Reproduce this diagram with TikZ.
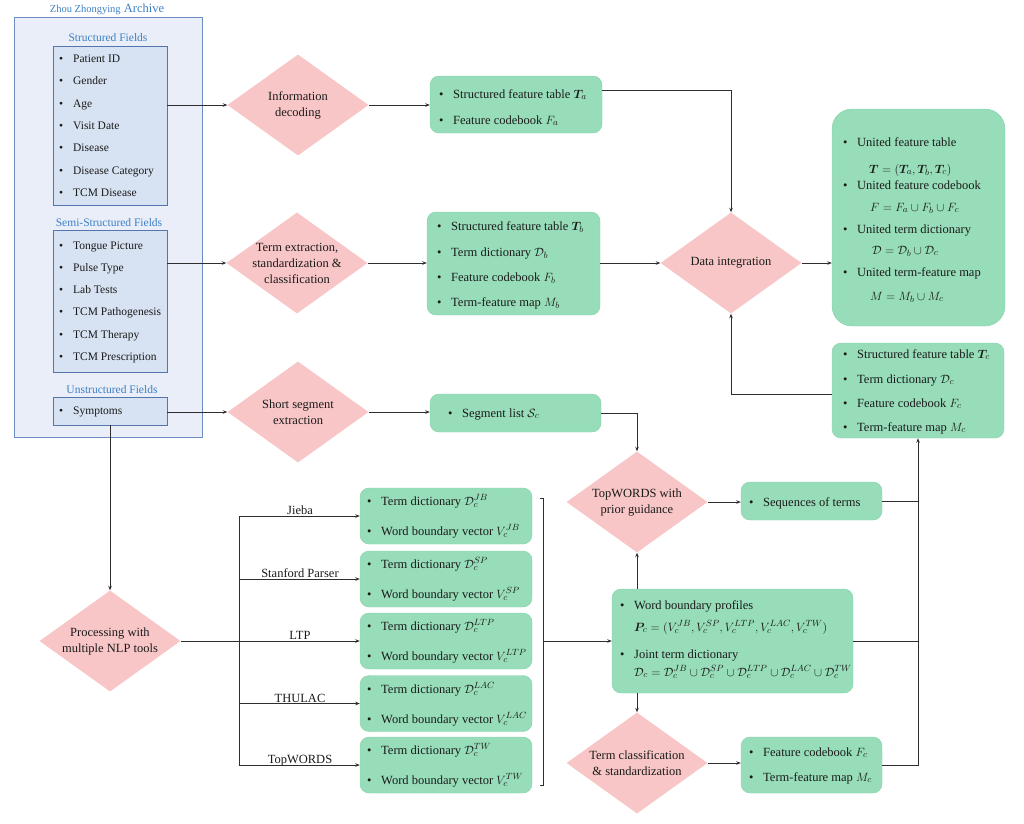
\documentclass[tikz,border=0pt]{standalone}
\usepackage{fontspec}
\setmainfont{Liberation Serif}
\usepackage{amsmath,amssymb,bm}
\usetikzlibrary{shapes.geometric,arrows.meta,calc}
\definecolor{grn}{HTML}{97DDB9}
\definecolor{grnd}{HTML}{86D0AA}
\definecolor{pnk}{HTML}{F8C6C6}
\definecolor{archfill}{HTML}{E9EEF8}
\definecolor{archdraw}{HTML}{6E8DC2}
\definecolor{infill}{HTML}{D7E2F2}
\definecolor{indraw}{HTML}{5475AE}
\definecolor{blu}{HTML}{3D7FC4}
\definecolor{lncol}{HTML}{2E2E2E}
\definecolor{txt}{HTML}{1A1A1A}
\newcounter{itm}
\newcommand\bitem[4][bitm]{\stepcounter{itm}\node[#1] (it\theitm) at (#2,#3) {\makebox[14pt][l]{\textbullet}#4};}
\newcommand\fitem[3]{\stepcounter{itm}\node[bitm] (it\theitm) at (#1,#2) {#3};}
\begin{document}
\begin{tikzpicture}[x=1pt,y=-1pt,
  ln/.style={draw=lncol, line width=0.8pt},
  arr/.style={ln, -{Stealth[length=4.5pt,width=3.5pt]}},
  gbox/.style={rectangle, rounded corners=9pt, fill=grn, draw=grnd, line width=0.4pt, inner sep=0pt},
  dmd/.style={diamond, fill=pnk, minimum width=141pt, minimum height=101pt, inner sep=0pt, aspect=1.4},
  dtext/.style={align=center, font=\fontsize{12.5}{16}\selectfont, inner sep=0pt, text=txt},
  bitm/.style={anchor=west, inner sep=0pt, font=\fontsize{12.5}{15}\selectfont, text=txt, text height=9pt, text depth=3pt},
  litm/.style={anchor=west, inner sep=0pt, font=\fontsize{11.5}{14}\selectfont, text=txt, text height=8pt, text depth=3pt},
  sect/.style={inner sep=0pt, font=\fontsize{11.5}{14}\selectfont, text=blu},
  archive/.style={rectangle, fill=archfill, draw=archdraw, line width=0.7pt, inner sep=0pt},
  inbox/.style={rectangle, fill=infill, draw=indraw, line width=0.7pt, inner sep=0pt},
  tool/.style={anchor=base, inner sep=0pt, font=\fontsize{12.5}{15}\selectfont, text=txt}
]
\useasboundingbox (0,0) rectangle (1024,823);

% ---------------- archive panel
\node[archive, minimum width=188pt, minimum height=420pt] (arch) at (108,227) {};
\node[inner sep=0pt, text=blu, font=\fontsize{12.5}{14}\selectfont] (archt) at (107,9) {{\fontsize{10.5}{12}\selectfont Zhou Zhongying} Archive};

\node[sect] (sft) at (108,38) {Structured Fields};
\node[inbox, minimum width=114pt, minimum height=159pt] (sf) at (110,125.5) {};
\bitem[litm]{59}{60}{Patient ID}
\bitem[litm]{59}{82}{Gender}
\bitem[litm]{59}{105}{Age}
\bitem[litm]{59}{127}{Visit Date}
\bitem[litm]{59}{149}{Disease}
\bitem[litm]{59}{172}{Disease Category}
\bitem[litm]{59}{194}{TCM Disease}

\node[sect] (ssft) at (109,223) {Semi-Structured Fields};
\node[inbox, minimum width=114pt, minimum height=142pt] (ssf) at (110,301) {};
\bitem[litm]{59}{247}{Tongue Picture}
\bitem[litm]{59}{269}{Pulse Type}
\bitem[litm]{59}{291}{Lab Tests}
\bitem[litm]{59}{313}{TCM Pathogenesis}
\bitem[litm]{59}{336}{TCM Therapy}
\bitem[litm]{59}{358}{TCM Prescription}

\node[sect] (uft) at (112,390) {Unstructured Fields};
\node[inbox, minimum width=114pt, minimum height=28pt] (uf) at (110,411) {};
\bitem[litm]{59}{412}{Symptoms}

% ---------------- diamonds
\node[dmd] (info) at (298,105) {};
\node[dtext] (infot) at (info) {Information\\decoding};
\node[dmd] (te) at (297,263) {};
\node[dtext] (tet) at (te) {Term extraction,\\standardization \&\\classification};
\node[dmd] (ss) at (298,412) {};
\node[dtext] (sst) at (ss) {Short segment\\extraction};
\node[dmd] (proc) at (110,641) {};
\node[dtext] (proct) at (proc) {Processing with\\multiple NLP tools};
\node[dmd] (di) at (731,263) {};
\node[dtext] (dit) at (di) {Data integration};
\node[dmd] (tw) at (637,502) {};
\node[dtext] (twt) at (tw) {TopWORDS with\\prior guidance};
\node[dmd] (tcl) at (637,763) {};
\node[dtext] (tclt) at (tcl) {Term classification\\\& standardization};

% ---------------- green boxes
\node[gbox, minimum width=172pt, minimum height=57pt] (ta) at (516,104.5) {};
\bitem{439}{95}{Structured feature table $\boldsymbol{T}_a$}
\bitem{439}{121}{Feature codebook $F_a$}

\node[gbox, minimum width=173pt, minimum height=103pt] (tb) at (513.5,263.5) {};
\bitem{437}{227}{Structured feature table $\boldsymbol{T}_b$}
\bitem{437}{253}{Term dictionary $\mathcal{D}_b$}
\bitem{437}{278}{Feature codebook $F_b$}
\bitem{437}{303}{Term-feature map $M_b$}

\node[gbox, rounded corners=20pt, minimum width=173pt, minimum height=217pt] (ub) at (918.5,217.5) {};
\bitem{843}{143}{United feature table}
\fitem{869}{170}{$\boldsymbol{T}=(\boldsymbol{T}_a,\boldsymbol{T}_b,\boldsymbol{T}_c)$}
\bitem{843}{186}{United feature codebook}
\fitem{870}{208}{$F=F_a\cup F_b\cup F_c$}
\bitem{843}{230}{United term dictionary}
\fitem{872}{251}{$\mathcal{D}=\mathcal{D}_b\cup \mathcal{D}_c$}
\bitem{843}{273}{United term-feature map}
\fitem{870}{297}{$M=M_b\cup M_c$}

\node[gbox, minimum width=172pt, minimum height=95pt] (tcb) at (918,390.5) {};
\bitem{843}{355}{Structured feature table $\boldsymbol{T}_c$}
\bitem{843}{380}{Term dictionary $\mathcal{D}_c$}
\bitem{843}{404}{Feature codebook $F_c$}
\bitem{843}{428}{Term-feature map $M_c$}

\node[gbox, minimum width=171pt, minimum height=38pt] (sl) at (515.5,413) {};
\bitem{448}{414}{Segment list $\mathcal{S}_c$}

\node[gbox, minimum width=141pt, minimum height=38pt] (seq) at (811.5,501) {};
\bitem{749}{503}{Sequences of terms}

\node[gbox, minimum width=241pt, minimum height=104pt] (wb) at (732.5,641) {};
\bitem{620}{606}{Word boundary profiles}
\fitem{634}{628}{$\boldsymbol{P}_c=(V_c^{JB},V_c^{SP},V_c^{LTP},V_c^{LAC},V_c^{TW})$}
\bitem{620}{655}{Joint term dictionary}
\fitem{634}{673}{$\mathcal{D}_c=\mathcal{D}_c^{JB}\cup\mathcal{D}_c^{SP}\cup\mathcal{D}_c^{LTP}\cup\mathcal{D}_c^{LAC}\cup\mathcal{D}_c^{TW}$}

\node[gbox, minimum width=141pt, minimum height=56pt] (fm) at (811.5,765) {};
\bitem{749}{753}{Feature codebook $F_c$}
\bitem{749}{778}{Term-feature map $M_c$}

% NLP tool outputs
\node[gbox, minimum width=172pt, minimum height=56pt] (n1) at (446,516) {};
\bitem{367}{502}{Term dictionary $\mathcal{D}_c^{JB}$}
\bitem{367}{532}{Word boundary vector $V_c^{JB}$}
\node[gbox, minimum width=172pt, minimum height=56pt] (n2) at (446,579) {};
\bitem{367}{565}{Term dictionary $\mathcal{D}_c^{SP}$}
\bitem{367}{595}{Word boundary vector $V_c^{SP}$}
\node[gbox, minimum width=172pt, minimum height=56pt] (n3) at (446,641) {};
\bitem{367}{627}{Term dictionary $\mathcal{D}_c^{LTP}$}
\bitem{367}{657}{Word boundary vector $V_c^{LTP}$}
\node[gbox, minimum width=172pt, minimum height=56pt] (n4) at (446,703.5) {};
\bitem{367}{690}{Term dictionary $\mathcal{D}_c^{LAC}$}
\bitem{367}{720}{Word boundary vector $V_c^{LAC}$}
\node[gbox, minimum width=172pt, minimum height=56pt] (n5) at (446,765) {};
\bitem{367}{751}{Term dictionary $\mathcal{D}_c^{TW}$}
\bitem{367}{781}{Word boundary vector $V_c^{TW}$}

% tool labels
\node[tool] (l1) at (300,514.5) {Jieba};
\node[tool] (l2) at (300,577) {Stanford Parser};
\node[tool] (l3) at (300,639.5) {LTP};
\node[tool] (l4) at (300,702) {THULAC};
\node[tool] (l5) at (300,763.5) {TopWORDS};

% ---------------- connectors
\draw[arr] (sf.east |- info.west) -- (info.west);
\draw[arr] (ssf.east |- te.west) -- (te.west);
\draw[arr] (uf.east |- ss.west) -- (ss.west);
\draw[arr] (info.east) -- (ta.west |- info.east);
\draw[arr] (te.east) -- (tb.west |- te.east);
\draw[arr] (ss.east) -- (sl.west |- ss.east);
\draw[arr] ([yshift=14pt]ta.east) -| (di.north);
\draw[arr] (tb.east |- di.west) -- (di.west);
\draw[arr] (di.east) -- (ub.west |- di.east);
\draw[arr] ([yshift=-4pt]tcb.west) -| (di.south);
\draw[arr] (sl.east) -| (tw.north);
\draw[arr] (uf.south) -- (proc.north);

% branching to NLP tools
\coordinate (bx) at (239,0);
\draw[ln] (bx |- n1.west) -- (bx |- n5.west);
\draw[arr] (proc.east) -- (n3.west);
\draw[arr] (bx |- n1.west) -- (n1.west);
\draw[arr] (bx |- n2.west) -- (n2.west);
\draw[arr] (bx |- n4.west) -- (n4.west);
\draw[arr] (bx |- n5.west) -- (n5.west);

% bracket
\coordinate (brt) at (540,498);
\coordinate (brb) at (540,785);
\coordinate (brm) at (543,641);
\draw[ln, line width=0.6pt] (brt) -- ++(3,0) -- ($(brb)+(3,0)$) -- (brb);
\draw[arr] (brm) -- (wb.west |- brm);

\draw[arr] (tw.south |- wb.north) -- (tw.south);
\draw[arr] (tcl.north |- wb.south) -- (tcl.north);
\draw[arr] (tw.east) -- (seq.west |- tw.east);
\draw[arr] (tcl.east) -- (fm.west |- tcl.east);

\coordinate (jx) at (918,0);
\draw[ln] (seq.east) -- (seq.east -| jx);
\draw[ln] (wb.east) -- (wb.east -| jx);
\draw[arr] (fm.east) -- (fm.east -| jx) -- (jx |- tcb.south);
\end{tikzpicture}
\end{document}
